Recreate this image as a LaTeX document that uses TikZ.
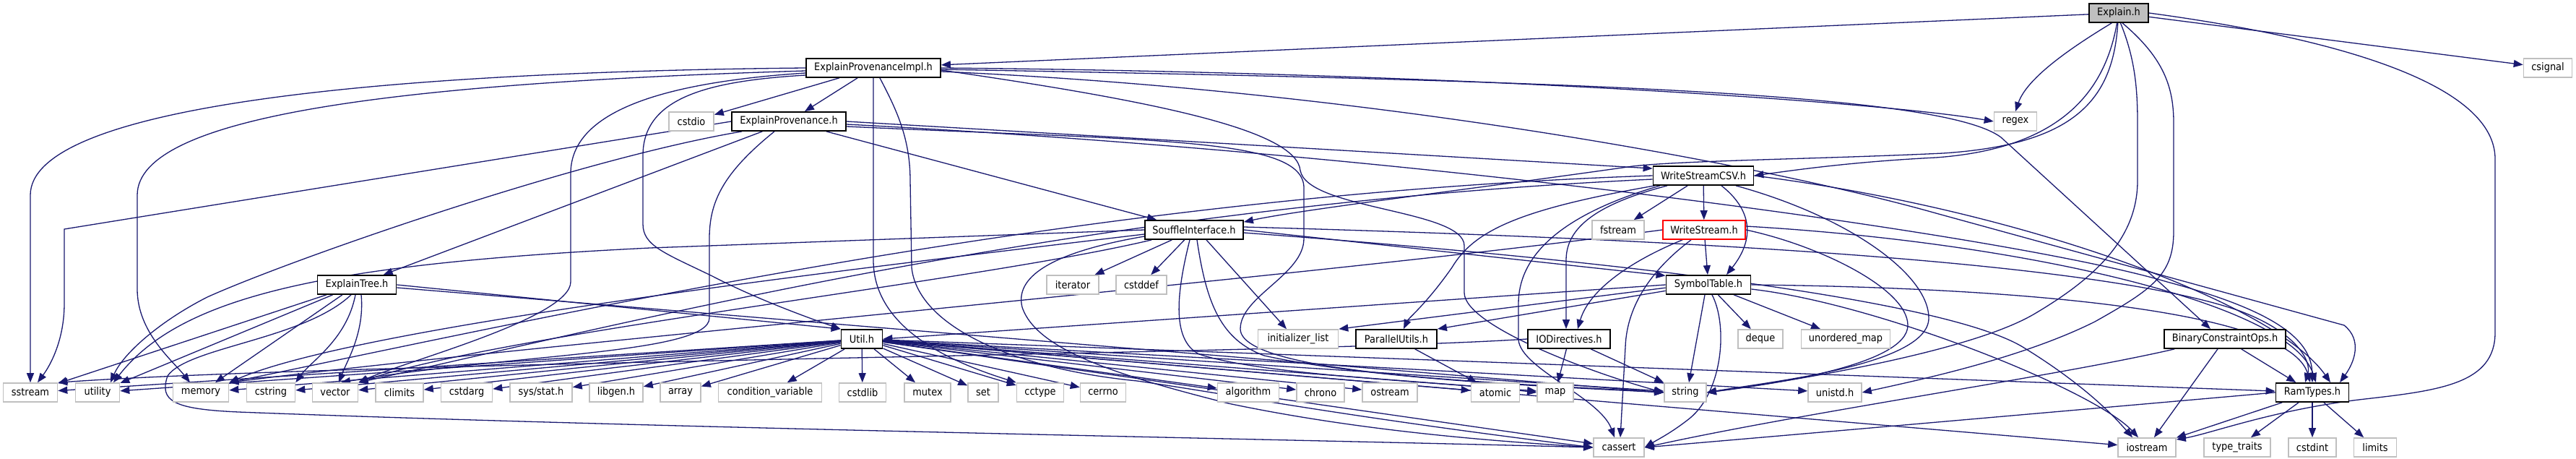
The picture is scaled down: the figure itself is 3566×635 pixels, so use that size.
\documentclass[tikz,border=0pt]{standalone}
\usepackage{fontspec}
\setmainfont{DejaVu Sans}[FakeStretch=0.9]
\usetikzlibrary{arrows.meta,calc}
\definecolor{edgeblue}{HTML}{191970}
\definecolor{sysgray}{HTML}{BFBFBF}
\pgfdeclarelayer{bottomlayer}
\pgfdeclarelayer{edgelayer}
\pgfsetlayers{bottomlayer,edgelayer,main}
\tikzset{
  hdr/.style={draw=black, line width=0.9pt, fill=white, minimum height=13pt, inner sep=0pt},
  sys/.style={draw=sysgray, line width=0.8pt, fill=white, minimum height=13pt, inner sep=0pt},
  rootnode/.style={hdr, fill=sysgray},
  redhdr/.style={hdr, draw=red},
  dep/.style={draw=edgeblue, line width=0.65pt, -{Triangle[length=6.5pt,width=5pt]}}
}
\begin{document}
\begin{tikzpicture}[x=0.5pt, y=-0.5pt, font=\fontsize{7.2pt}{8pt}\selectfont]
\begin{pgfonlayer}{bottomlayer}
\fill[white] (0,0) rectangle (3566,635);
\end{pgfonlayer}
\useasboundingbox (0,0) rectangle (3566,635);

% project headers
\node[rootnode, minimum width=41pt] (E) at (2933,18) {Explain.h};
\node[hdr, minimum width=93pt] (EPI) at (1209,94) {ExplainProvenanceImpl.h};
\node[hdr, minimum width=79pt] (EP) at (1092,168) {ExplainProvenance.h};
\node[hdr, minimum width=69.5pt] (WSC) at (2358,243) {WriteStreamCSV.h};
\node[hdr, minimum width=68pt] (SI) at (1653,318) {SouffleInterface.h};
\node[redhdr, minimum width=57pt] (WS) at (2359,318) {WriteStream.h};
\node[hdr, minimum width=54.5pt] (ET) at (494,394) {ExplainTree.h};
\node[hdr, minimum width=58.5pt] (ST) at (2365,394) {SymbolTable.h};
\node[hdr, minimum width=28.5pt] (Util) at (1193,469) {Util.h};
\node[hdr, minimum width=56pt] (PU) at (1933,469) {ParallelUtils.h};
\node[hdr, minimum width=57pt] (IOD) at (2172,469) {IODirectives.h};
\node[hdr, minimum width=84pt] (BCO) at (3080,469) {BinaryConstraintOps.h};
\node[hdr, minimum width=50.5pt] (RamTypes) at (3201,543) {RamTypes.h};

% system headers
\node[sys, minimum width=33.5pt] (csignal) at (3527,94) {csignal};
\node[sys, minimum width=31pt] (cstdio) at (957,168) {cstdio};
\node[sys, minimum width=29.5pt] (regex) at (2790,168) {regex};
\node[sys, minimum width=36pt] (fstream) at (2240,318) {fstream};
\node[sys, minimum width=36pt] (iterator) at (1485,394) {iterator};
\node[sys, minimum width=35pt] (cstddef) at (1580,394) {cstddef};
\node[sys, minimum width=55.5pt] (initlist) at (1797,469) {initializer\_list};
\node[sys, minimum width=31pt] (deque) at (2437,469) {deque};
\node[sys, minimum width=61.5pt] (umap) at (2555,469) {unordered\_map};

\node[sys, minimum width=37.5pt] (sstream) at (42,543) {sstream};
\node[sys, minimum width=30.5pt] (utility) at (135,543) {utility};
\node[sys, minimum width=38.5pt] (memory) at (278,543) {memory};
\node[sys, minimum width=33.5pt] (cstring) at (375,543) {cstring};
\node[sys, minimum width=31.5pt] (vector) at (464,543) {vector};
\node[sys, minimum width=33pt] (climits) at (553,543) {climits};
\node[sys, minimum width=35.5pt] (cstdarg) at (646,543) {cstdarg};
\node[sys, minimum width=43pt] (sysstat) at (749,543) {sys/stat.h};
\node[sys, minimum width=37pt] (libgen) at (853,543) {libgen.h};
\node[sys, minimum width=28pt] (array) at (942,543) {array};
\node[sys, minimum width=71.5pt] (condvar) at (1066,543) {condition\_variable};
\node[sys, minimum width=32.5pt] (cstdlib) at (1194,543) {cstdlib};
\node[sys, minimum width=32pt] (mutex) at (1284,543) {mutex};
\node[sys, minimum width=21pt] (set) at (1361,543) {set};
\node[sys, minimum width=32.5pt] (cctype) at (1440,543) {cctype};
\node[sys, minimum width=31.5pt] (cerrno) at (1527,543) {cerrno};
\node[sys, minimum width=42.5pt] (algorithm) at (1728,543) {algorithm};
\node[sys, minimum width=33pt] (chrono) at (1828,543) {chrono};
\node[sys, minimum width=38pt] (ostream) at (1924,543) {ostream};
\node[sys, minimum width=33.5pt] (atomic) at (2070,543) {atomic};
\node[sys, minimum width=25pt] (map) at (2153,543) {map};
\node[sys, minimum width=29pt] (string) at (2333,543) {string};
\node[sys, minimum width=37pt] (unistd) at (2540,543) {unistd.h};

\node[sys, minimum width=35pt] (cassert) at (2241,619) {cassert};
\node[sys, minimum width=40pt] (iostream) at (2972,619) {iostream};
\node[sys, minimum width=46pt] (ttraits) at (3097,619) {type\_traits};
\node[sys, minimum width=33pt] (cstdint) at (3201,619) {cstdint};
\node[sys, minimum width=29.5pt] (limits) at (3288,619) {limits};

\begin{pgfonlayer}{edgelayer}
% Explain.h
\draw[dep] (E) -- (EPI);
\draw[dep] (E) -- (csignal);
\draw[dep] (E.-125) .. controls (2860,70) and (2805,110) .. (regex.north);
\draw[dep] (E.-100) .. controls (2915,120) and (2860,205) .. (2680,218) .. controls (2560,224) and (2480,236) .. (WSC.east);
\draw[dep] (E.-95) .. controls (2925,140) and (2870,200) .. (2690,212) .. controls (2520,220) and (2330,222) .. (2260,230) .. controls (2050,260) and (1800,290) .. ($(SI.north east)+(0,3)$);
\draw[dep] (E.-80) .. controls (2955,80) and (2959,120) .. (2959,170) -- (2959,250) .. controls (2959,330) and (2900,385) .. (2815,435) .. controls (2720,490) and (2460,530) .. (string.east);
\draw[dep] (E.-70) .. controls (2995,80) and (3009,120) .. (3009,170) -- (3009,320) .. controls (3009,380) and (2980,400) .. (2900,445) .. controls (2800,495) and (2660,525) .. (unistd.east);
\draw[dep] (E.east) .. controls (3250,55) and (3454,120) .. (3454,220) -- (3454,460) .. controls (3454,530) and (3380,540) .. (3274,552) .. controls (3150,566) and (3060,600) .. (iostream.15);

% ExplainProvenanceImpl.h
\draw[dep] (EPI) -- (EP);
\draw[dep] (EPI) -- (cstdio);
\draw[dep] (EPI.west) .. controls (500,100) and (42,150) .. (42,270) -- (sstream.north);
\draw[dep] ($(EPI.west)+(0,4)$) .. controls (550,115) and (190,160) .. (190,270) -- (190,400) .. controls (190,460) and (240,500) .. ($(memory.north)+(-15,0)$);
\draw[dep] ($(EPI.west)+(0,7)$) .. controls (900,115) and (790,160) .. (790,240) -- (790,390) .. controls (790,440) and (560,500) .. (vector.north east);
\draw[dep] ($(EPI.west)+(0,10)$) .. controls (980,112) and (890,135) .. (890,215) -- (890,310) .. controls (890,340) and (920,350) .. (986,382) .. controls (1050,415) and (1120,440) .. (Util.north west);
\draw[dep] (EPI.south) -- (1209,360) .. controls (1209,460) and (1330,505) .. (cctype.north west);
\draw[dep] ($(EPI.south)+(9,0)$) .. controls (1240,150) and (1260,190) .. (1260,250) -- (1262,370) .. controls (1270,450) and (1400,510) .. (1574,527) .. controls (1700,545) and (1850,575) .. (cassert.west);
\draw[dep] (EPI.east) .. controls (2000,100) and (2600,140) .. (regex.west);
\draw[dep] ($(EPI.east)+(0,2)$) .. controls (2200,112) and (2690,130) .. (2770,190) -- ($(BCO.north)+(-20,0)$);
\draw[dep] ($(EPI.east)+(0,5)$) .. controls (1900,125) and (2450,230) .. (2680,295) -- (3245,450) .. controls (3270,470) and (3260,500) .. ($(RamTypes.north)+(38,0)$);
\draw[dep] ($(EPI.east)+(0,3)$) .. controls (1600,140) and (1795,180) .. (1800,236) .. controls (1810,290) and (2027,290) .. (2027,340) -- (2027,405) .. controls (2027,450) and (2200,515) .. (string.west);

% ExplainProvenance.h
\draw[dep] (EP) -- (ET);
\draw[dep] (EP.west) -- (89,317) -- (89,420) .. controls (89,470) and (70,505) .. ($(sstream.north)+(10,0)$);
\draw[dep] ($(EP.south west)+(15,0)$) .. controls (800,220) and (400,360) .. (287,411) .. controls (220,445) and (170,490) .. ($(utility.north)+(18,0)$);
\draw[dep] ($(EP.south)+(-20,0)$) .. controls (1000,240) and (982,280) .. (982,330) -- (982,440) .. controls (982,490) and (700,490) .. ($(vector.north)+(8,0)$);
\draw[dep] (EP) -- (SI);
\draw[dep] (EP.east) -- (WSC.172);
\draw[dep] ($(EP.east)+(0,4)$) .. controls (2000,215) and (2800,330) .. (3000,390) .. controls (3150,430) and (3200,470) .. (RamTypes.north);
\draw[dep] ($(EP.east)+(0,7)$) .. controls (1600,195) and (1805,190) .. (1805,260) -- (1805,330) .. controls (1805,380) and (1717,410) .. (1717,455) .. controls (1717,520) and (2100,530) .. (string.west);

% ExplainTree.h
\draw[dep] (ET) -- (sstream);
\draw[dep] (ET) -- (utility);
\draw[dep] (ET) -- (memory);
\draw[dep] ($(ET.south)+(-2,0)$) .. controls (480,470) and (430,500) .. (cstring.north east);
\draw[dep] ($(ET.south)+(6,0)$) .. controls (505,460) and (480,500) .. ($(vector.north)+(5,0)$);
\draw[dep] ($(ET.south)+(-8,0)$) .. controls (420,470) and (260,480) .. (232,520) .. controls (220,555) and (240,566) .. (330,570) .. controls (900,592) and (1800,608) .. (cassert.west);
\draw[dep] (ET.east) -- (Util.north west);
\draw[dep] ($(ET.east)+(0,4)$) -- (string.west);

% SouffleInterface.h
\draw[dep] (SI.west) -- (900,343) .. controls (450,365) and (250,410) .. ($(utility.north)+(22,0)$);
\draw[dep] ($(SI.west)+(0,6)$) .. controls (1200,370) and (500,450) .. (memory.north east);
\draw[dep] ($(SI.south west)+(10,0)$) .. controls (1350,390) and (700,460) .. (vector.north east);
\draw[dep] (SI) -- (iterator);
\draw[dep] (SI) -- (cstddef);
\draw[dep] ($(SI.south)+(17,0)$) -- ($(initlist.north)+(-16,0)$);
\draw[dep] ($(SI.south)+(-6,0)$) .. controls (1630,400) and (1620,470) .. (1660,490) .. controls (1750,520) and (2000,528) .. (map.west);
\draw[dep] ($(SI.south)+(4,0)$) .. controls (1670,420) and (1690,470) .. (1750,492) .. controls (1900,525) and (2150,535) .. (string.west);
\draw[dep] (SI.east) -- (ST.168);
\draw[dep] ($(SI.east)+(0,-4)$) .. controls (2300,330) and (2900,360) .. (3100,430) .. controls (3180,460) and (3200,500) .. ($(RamTypes.north)+(-10,0)$);
\draw[dep] ($(SI.east)+(0,4)$) .. controls (2300,365) and (2700,420) .. (2800,480) .. controls (2890,535) and (2930,580) .. ($(iostream.north)+(-20,0)$);
\draw[dep] ($(SI.west)+(0,9)$) .. controls (1450,350) and (1405,385) .. (1415,425) .. controls (1435,485) and (1550,520) .. (1700,558) .. controls (1900,600) and (2100,612) .. (cassert.west);

% WriteStreamCSV.h
\draw[dep] (WSC) -- (fstream);
\draw[dep] (WSC) -- (WS);
\draw[dep] ($(WSC.south)+(25,0)$) .. controls (2425,290) and (2430,330) .. ($(ST.north)+(25,0)$);
\draw[dep] ($(WSC.south)+(-50,0)$) .. controls (2200,285) and (2168,320) .. (2168,360) -- ($(IOD.north)+(-4,0)$);
\draw[dep] ($(WSC.south west)+(3,0)$) .. controls (2100,290) and (2040,320) .. (2010,370) .. controls (1975,420) and (1950,440) .. ($(PU.north)+(10,0)$);
\draw[dep] ($(WSC.south)+(-60,0)$) .. controls (2150,300) and (2102,360) .. (2102,420) -- (2102,470) .. controls (2105,510) and (2215,550) .. ($(cassert.north)+(-6,0)$);
\draw[dep] ($(WSC.south)+(45,0)$) .. controls (2560,300) and (2670,380) .. (2670,440) .. controls (2670,505) and (2450,528) .. (string.east);
\draw[dep] (WSC.east) .. controls (2800,290) and (3150,420) .. ($(RamTypes.north)+(25,0)$);
\draw[dep] (WSC.west) .. controls (1500,270) and (800,430) .. (memory.north east);
\draw[dep] ($(WSC.west)+(0,5)$) .. controls (1500,285) and (900,440) .. (vector.north east);

% WriteStream.h
\draw[dep] (WS) -- (ST);
\draw[dep] ($(WS.south)+(-30,0)$) .. controls (2260,360) and (2200,400) .. ($(IOD.north)+(12,0)$);
\draw[dep] ($(WS.south)+(-18,0)$) .. controls (2290,370) and (2252,420) .. (2250,480) -- ($(cassert.north)+(2,0)$);
\draw[dep] (WS.east) .. controls (2520,340) and (2641,400) .. (2641,450) .. controls (2641,505) and (2450,532) .. (string.east);
\draw[dep] ($(WS.east)+(0,-5)$) .. controls (2800,335) and (3170,420) .. ($(RamTypes.north)+(5,0)$);
\draw[dep] (WS.west) .. controls (1800,385) and (700,480) .. (memory.north east);

% SymbolTable.h
\draw[dep] (ST.188) -- (PU.north east);
\draw[dep] (ST.184) -- (initlist.north east);
\draw[dep] (ST.west) -- (Util.east);
\draw[dep] (ST) -- (deque);
\draw[dep] (ST) -- (umap);
\draw[dep] ($(ST.south)+(-5,0)$) -- ($(string.north)+(5,0)$);
\draw[dep] ($(ST.south)+(5,0)$) .. controls (2392,450) and (2385,540) .. (2340,578) .. controls (2315,598) and (2295,608) .. (cassert.east);
\draw[dep] (ST.east) .. controls (2800,398) and (3170,430) .. ($(RamTypes.north)+(-3,0)$);
\draw[dep] ($(ST.east)+(0,6)$) .. controls (2600,420) and (2900,540) .. ($(iostream.north)+(-12,0)$);

% IODirectives.h
\draw[dep] (IOD) -- (map);
\draw[dep] (IOD) -- (string);
\draw[dep] (IOD.west) .. controls (1800,490) and (500,500) .. (sstream.north east);

% ParallelUtils.h
\draw[dep] (PU) -- (atomic);

% BinaryConstraintOps.h
\draw[dep] (BCO) -- (RamTypes);
\draw[dep] (BCO) -- (iostream);
\draw[dep] ($(BCO.south west)+(15,0)$) .. controls (2850,520) and (2500,570) .. (cassert.east);

% RamTypes.h
\draw[dep] (RamTypes) -- (iostream);
\draw[dep] (RamTypes) -- (ttraits);
\draw[dep] (RamTypes) -- (cstdint);
\draw[dep] (RamTypes) -- (limits);
\draw[dep] (RamTypes.west) .. controls (2900,565) and (2500,600) .. (cassert.east);

% Util.h
\foreach \t in {sstream,utility,memory,cstring,vector,climits,cstdarg,sysstat,libgen,array,condvar,cstdlib,mutex,set,cctype,cerrno,algorithm,chrono,ostream,atomic,map,string,unistd,RamTypes,cassert,iostream}
  \draw[dep] (Util) -- (\t);
\end{pgfonlayer}
\end{tikzpicture}
\end{document}
